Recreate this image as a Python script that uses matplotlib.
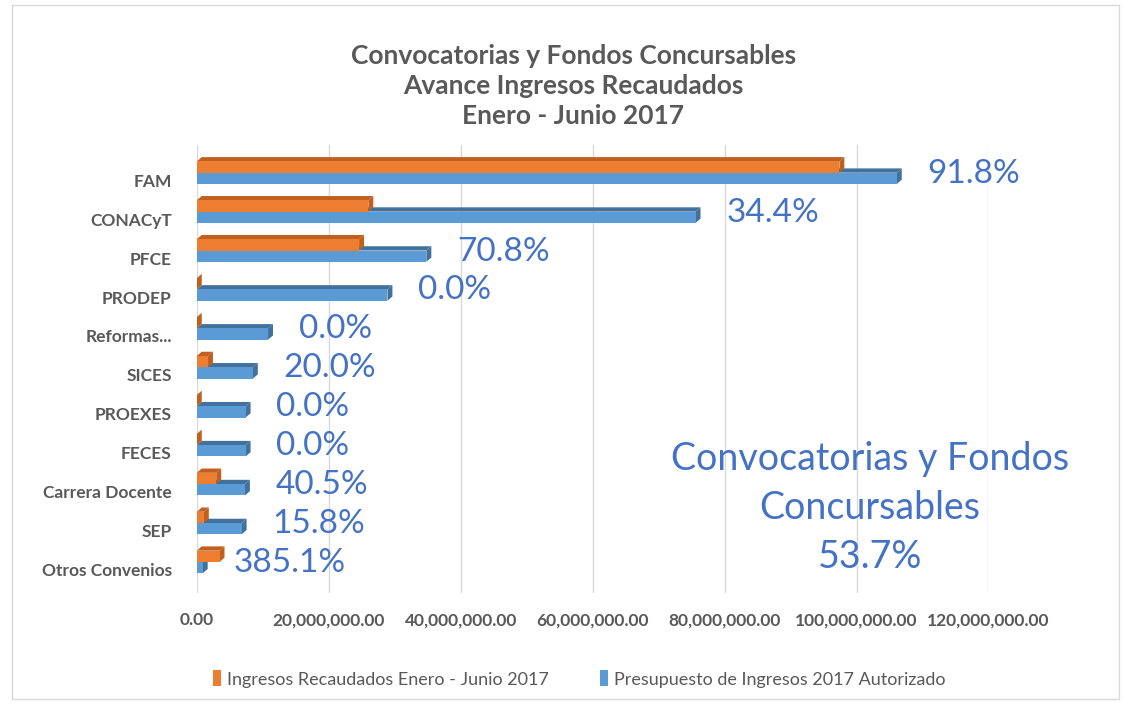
import matplotlib
matplotlib.use("Agg")
import matplotlib.pyplot as plt
from matplotlib.patches import Polygon, Patch, Rectangle
from matplotlib.ticker import FuncFormatter

# ---------------------------------------------------------------------------
# DATA
# ---------------------------------------------------------------------------
categories = ["FAM", "CONACyT", "PFCE", "PRODEP", "Reformas...", "SICES",
              "PROEXES", "FECES", "Carrera Docente", "SEP", "Otros Convenios"]

# Ingresos recaudados Enero - Junio 2017
recaudado = [97.4e6, 26.0e6, 24.6e6, 0.0, 0.0, 1.7e6,
             0.0, 0.0, 2.95e6, 1.07e6, 3.45e6]
# Presupuesto de ingresos 2017 autorizado
presupuesto = [106.1e6, 75.6e6, 34.8e6, 28.9e6, 10.8e6, 8.5e6,
               7.4e6, 7.4e6, 7.3e6, 6.8e6, 0.9e6]
# avance labels shown on the chart
avance = ["91.8%", "34.4%", "70.8%", "0.0%", "0.0%", "20.0%",
          "0.0%", "0.0%", "40.5%", "15.8%", "385.1%"]

x_ticks = [0, 20e6, 40e6, 60e6, 80e6, 100e6, 120e6]

title = "Convocatorias y Fondos Concursables\nAvance Ingresos Recaudados\nEnero - Junio 2017"
total_text = "Convocatorias y Fondos\nConcursables\n53.7%"
legend_labels = ["Ingresos Recaudados Enero - Junio 2017",
                 "Presupuesto de Ingresos 2017 Autorizado"]

# ---------------------------------------------------------------------------
# STYLE
# ---------------------------------------------------------------------------
ORANGE, ORANGE_DARK = "#ED7D31", "#C0601F"
BLUE, BLUE_DARK = "#5B9BD5", "#41719C"
GRAY = "#595959"
LABEL_BLUE = "#4472C4"

plt.rcParams["font.family"] = ["Lato", "DejaVu Sans"]

fig = plt.figure(figsize=(11.31, 7.05), dpi=100)
ax = fig.add_axes([0.174, 0.159, 0.700, 0.635])

XMAX = 120e6
ax.set_xlim(0, XMAX)
ax.set_ylim(10.6, -0.9)

# depth of the fake 3D faces (data units)
DX = 0.75e6
DY = 0.11
BAR_H = 0.29


def bar3d(ax, y_center, width, front, dark):
    top = y_center - BAR_H / 2
    bot = y_center + BAR_H / 2
    # top face
    ax.add_patch(Polygon([(0, top), (width, top), (width + DX, top - DY), (DX, top - DY)],
                         closed=True, facecolor=dark, edgecolor="none", zorder=3))
    # end face
    ax.add_patch(Polygon([(width, bot), (width, top), (width + DX, top - DY), (width + DX, bot - DY)],
                         closed=True, facecolor=dark, edgecolor="none", zorder=3))
    # front face
    ax.add_patch(Rectangle((0, top), width, BAR_H, facecolor=front,
                           edgecolor="none", zorder=3))


for i, cat in enumerate(categories):
    yb = i - 0.05
    yo = yb - BAR_H
    bar3d(ax, yb, presupuesto[i], BLUE, BLUE_DARK)
    bar3d(ax, yo, recaudado[i], ORANGE, ORANGE_DARK)
    ax.annotate(avance[i], xy=(presupuesto[i], yb - 0.12), xytext=(22, 0),
                textcoords="offset points", va="center", ha="left",
                fontsize=24, color=LABEL_BLUE, zorder=4)

# axes decoration
ax.set_xticks(x_ticks)
ax.xaxis.set_major_formatter(FuncFormatter(lambda v, p: f"{v:,.2f}"))
ax.set_yticks(range(len(categories)))
ax.set_yticklabels(categories)
ax.tick_params(axis="x", length=0, pad=14, labelsize=12.5, labelcolor=GRAY)
ax.tick_params(axis="y", length=0, pad=18, labelsize=12.5, labelcolor=GRAY)
for lab in ax.get_xticklabels() + ax.get_yticklabels():
    lab.set_fontweight("bold")
ax.grid(axis="x", color="#D9D9D9", linewidth=1, zorder=0)
ax.set_axisbelow(True)
for s in ax.spines.values():
    s.set_visible(False)

# big summary text
fig.text(0.769, 0.279, total_text, ha="center", va="center",
         fontsize=27, color=LABEL_BLUE, linespacing=1.45)

# title
fig.text(0.507, 0.878, title, ha="center", va="center", fontsize=19,
         fontweight="bold", color=GRAY, linespacing=1.3)

# legend
handles = [Patch(facecolor=ORANGE), Patch(facecolor=BLUE)]
fig.legend(handles, legend_labels, loc="center", bbox_to_anchor=(0.512, 0.037),
           ncol=2, frameon=False, fontsize=13, labelcolor=GRAY,
           handlelength=0.45, handleheight=1.0, handletextpad=0.35, columnspacing=2.8)

# chart border
fig.add_artist(Rectangle((0.011, 0.008), 0.978, 0.985, transform=fig.transFigure,
                         fill=False, edgecolor="#D9D9D9", linewidth=1))

fig.savefig("out.png", dpi=100)
